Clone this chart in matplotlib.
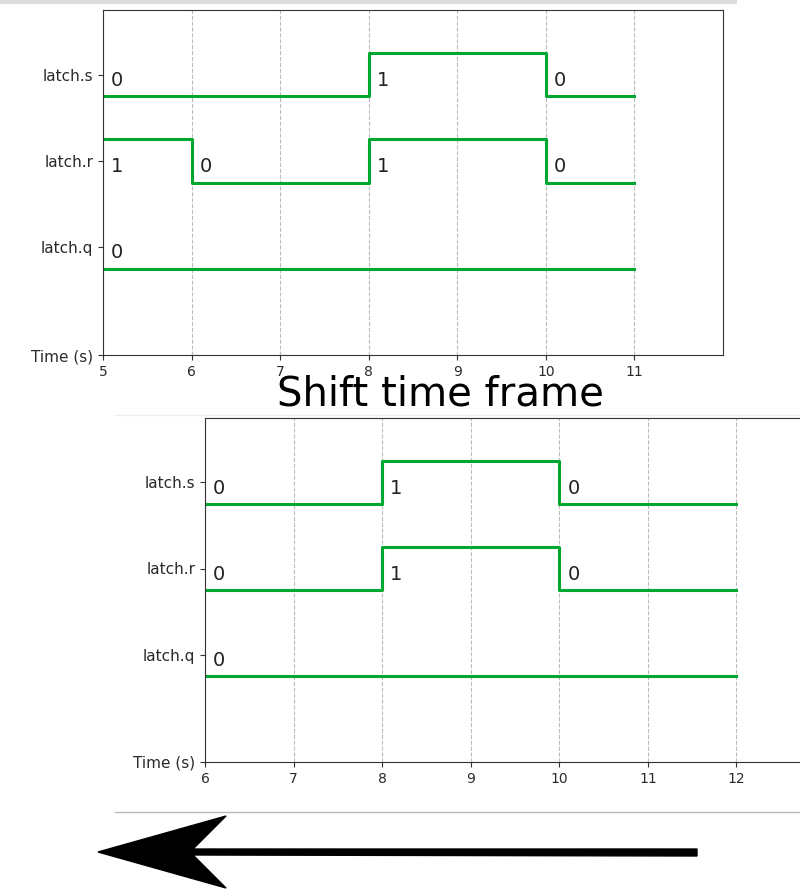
import numpy as np
import matplotlib
matplotlib.use('Agg')
import matplotlib.pyplot as plt
from matplotlib.patches import Polygon
from matplotlib.lines import Line2D

signal_names = ['latch.s', 'latch.r', 'latch.q']

# before the shift
top_times = {'latch.s': [5, 8, 10], 'latch.r': [5, 6, 8, 10], 'latch.q': [5]}
top_values = {'latch.s': [0, 1, 0], 'latch.r': [1, 0, 1, 0], 'latch.q': [0]}
top_end = 11
top_xlim = (5, 12)
top_xticks = [5, 6, 7, 8, 9, 10, 11]

# after the shift
bot_times = {'latch.s': [6, 8, 10], 'latch.r': [6, 8, 10], 'latch.q': [6]}
bot_values = {'latch.s': [0, 1, 0], 'latch.r': [0, 1, 0], 'latch.q': [0]}
bot_end = 12
bot_xlim = (6, 13)
bot_xticks = [6, 7, 8, 9, 10, 11, 12]

title = 'Shift time frame'
green = '#00a832'
W, H = 800, 889


def draw_wave(ax, times, values, end, xlim, xticks):
    n = len(signal_names)
    for i, name in enumerate(signal_names):
        base = n - i  # latch.s on top
        t = times[name] + [end]
        v = values[name] + [values[name][-1]]
        ax.step(t, base + 0.5 * np.array(v), where='post', color=green, lw=2.2)
        for ti, vi in zip(times[name], values[name]):
            ax.text(ti + 0.09, base + 0.12, str(vi), fontsize=14, color='#222222',
                    ha='left', va='baseline')
    ax.set_xlim(*xlim)
    ax.set_ylim(0, n + 1)
    ax.set_xticks(xticks)
    ax.set_yticks([0] + [n - i + 0.25 for i in range(n)])
    ax.set_yticklabels(['Time (s)'] + signal_names)
    ax.tick_params(colors='#333333', labelcolor='#2a2a2a')
    ax.tick_params(axis='x', labelsize=10)
    ax.tick_params(axis='y', labelsize=11)
    ax.grid(axis='x', ls='--', color='#bbbbbb', lw=0.8)
    for s in ax.spines.values():
        s.set_color('#333333')


fig = plt.figure(figsize=(W / 100, H / 100), dpi=100)

ax1 = fig.add_axes([103 / W, 1 - 355 / H, 620 / W, 345 / H])
draw_wave(ax1, top_times, top_values, top_end, top_xlim, top_xticks)

ax2 = fig.add_axes([205 / W, 1 - 762 / H, 620 / W, 344 / H])
draw_wave(ax2, bot_times, bot_values, bot_end, bot_xlim, bot_xticks)

fig.text(440 / W, 1 - 394 / H, title, fontsize=29, ha='center', va='center', color='black')

# screenshot edges
fig.add_artist(Line2D([0, 735 / W], [1 - 1.5 / H, 1 - 1.5 / H], color='#dddddd', lw=3))
fig.add_artist(Line2D([115 / W, 1], [1 - 415 / H, 1 - 415 / H], color='#eeeeee', lw=1))
fig.add_artist(Line2D([115 / W, 1], [1 - 812 / H, 1 - 812 / H], color='#bbbbbb', lw=1))

# big arrow pointing left
arrow_px = [(98, 852), (226, 816), (193, 849), (697, 849), (697, 856),
            (193, 855), (226, 888)]
arrow = Polygon([(x / W, 1 - y / H) for x, y in arrow_px], closed=True,
                facecolor='black', edgecolor='black', transform=fig.transFigure)
fig.add_artist(arrow)

fig.savefig('out.png', dpi=100)
